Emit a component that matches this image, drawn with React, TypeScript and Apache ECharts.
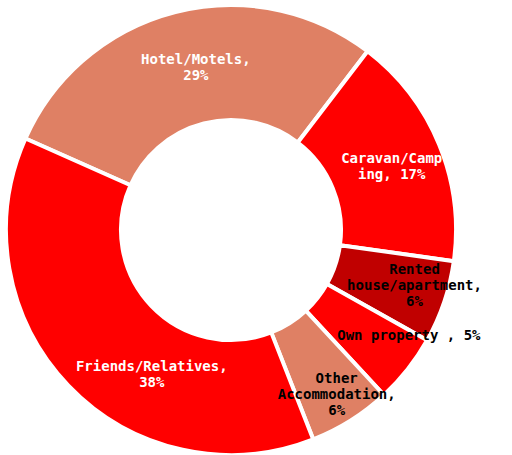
import React, { useEffect, useRef } from "react";
import * as echarts from "echarts";

const categories = [
  "Hotel/Motels",
  "Caravan/Camping",
  "Rented house/apartment",
  "Own property",
  "Other Accommodation",
  "Friends/Relatives",
];
const values = [29, 17, 6, 5, 6, 38];
const labelTexts = [
  "Hotel/Motels,\n29%",
  "Caravan/Camp\ning, 17%",
  "Rented\nhouse/apartment,\n6%",
  "Own property , 5%",
  "Other\nAccommodation,\n6%",
  "Friends/Relatives,\n38%",
];
const colors = ["#DF8064", "#FF0000", "#C00000", "#FF0000", "#DF8064", "#FF0000"];
const labelColors = ["#FFFFFF", "#FFFFFF", "#000000", "#000000", "#000000", "#FFFFFF"];
const labelOffsets: number[][] = [
  [7, 2],
  [3, 1],
  [22, 0],
  [44, -1],
  [15, 20],
  [44, 26],
];

export default function App() {
  const ref = useRef<HTMLDivElement>(null);
  useEffect(() => {
    if (!ref.current) return;
    const chart = echarts.init(ref.current, undefined, { renderer: "svg" });
    chart.setOption({
      animation: false,
      backgroundColor: "#FFFFFF",
      series: [
        {
          type: "pie",
          center: [231, 230],
          radius: [110, 225],
          startAngle: 156,
          clockwise: true,
          avoidLabelOverlap: false,
          emphasis: { disabled: true },
          itemStyle: { borderColor: "#FFFFFF", borderWidth: 4 },
          labelLine: { show: false },
          data: categories.map((name, i) => ({
            name,
            value: values[i],
            itemStyle: { color: colors[i] },
            label: {
              show: true,
              position: "inside",
              formatter: labelTexts[i],
              color: labelColors[i],
              fontFamily: "DejaVu Sans Mono",
              fontWeight: "bold",
              fontSize: 14,
              lineHeight: 16,
              align: "center",
              offset: labelOffsets[i],
            },
          })),
        },
      ],
    });
    return () => chart.dispose();
  }, []);
  return (
    <div
      ref={ref}
      style={{ position: "fixed", left: 0, top: 0, width: 512, height: 455 }}
    />
  );
}
